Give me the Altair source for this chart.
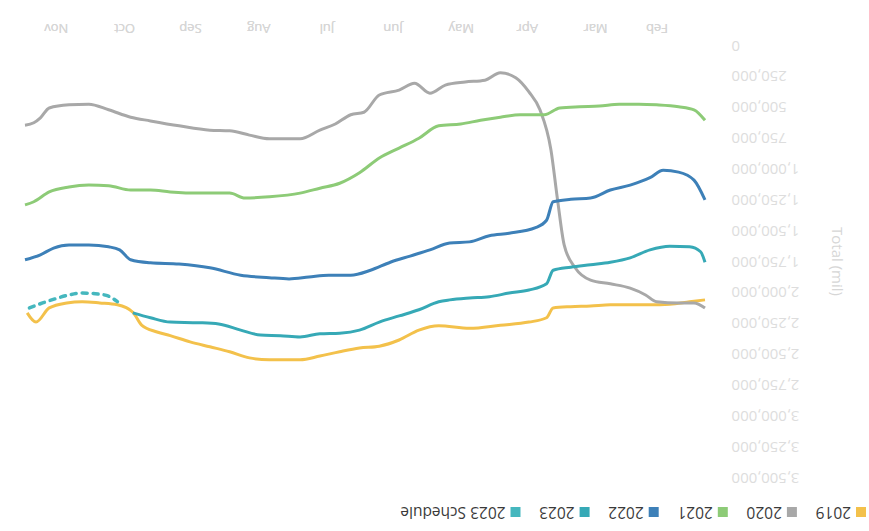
import altair as alt
import pandas as pd

# Daily totals by calendar day, one series per year (plotted on a shared calendar)
PLOT_YEAR = 2023

series_names = ["2019", "2020", "2021", "2022", "2023", "2023 Schedule"]
series_colors = ["#F3C14B", "#A8A8A8", "#8DCB77", "#3D80B8", "#36A9B6", "#45B7BE"]

days_2019 = ["01-10", "01-17", "01-26", "02-04", "02-13", "02-22", "03-03", "03-12", "03-20",
             "03-23", "03-31", "04-13", "04-27", "05-11", "05-20", "05-29", "06-07", "06-16",
             "06-25", "07-04", "07-13", "07-27", "08-05", "08-14", "08-23", "09-01", "09-10",
             "09-16", "09-23", "09-27", "10-04", "10-12", "10-20", "10-27", "11-04", "11-10",
             "11-14"]
values_2019 = [2065000, 2080000, 2100000, 2105000, 2105000, 2105000, 2115000, 2120000, 2130000,
               2210000, 2245000, 2270000, 2295000, 2275000, 2310000, 2390000, 2440000, 2455000,
               2485000, 2520000, 2550000, 2550000, 2535000, 2485000, 2445000, 2405000, 2355000,
               2325000, 2270000, 2165000, 2105000, 2090000, 2080000, 2090000, 2130000, 2245000,
               2170000]

days_2020 = ["01-10", "01-15", "01-22", "02-01", "02-06", "02-13", "02-22", "03-03", "03-10",
             "03-15", "03-18", "03-21", "03-26", "03-31", "04-06", "04-13", "04-20", "04-29",
             "05-08", "05-15", "05-22", "05-29", "06-07", "06-14", "06-20", "06-27", "07-04",
             "07-13", "07-27", "08-05", "08-14", "08-23", "09-06", "09-19", "09-28", "10-08",
             "10-17", "10-26", "11-04", "11-08", "11-11", "11-15"]
values_2020 = [2130000, 2090000, 2090000, 2080000, 2025000, 1970000, 1935000, 1905000, 1805000,
               1620000, 1255000, 850000, 525000, 380000, 265000, 225000, 285000, 300000,
               325000, 390000, 310000, 365000, 405000, 545000, 565000, 640000, 690000,
               760000, 760000, 730000, 695000, 690000, 655000, 615000, 585000, 525000,
               480000, 485000, 510000, 590000, 630000, 650000]

days_2021 = ["01-10", "01-15", "01-22", "02-01", "02-09", "02-18", "02-27", "03-08", "03-17",
             "03-24", "04-04", "04-13", "04-22", "05-01", "05-11", "05-20", "05-29", "06-07",
             "06-16", "06-25", "07-04", "07-13", "07-27", "08-07", "08-14", "08-28", "09-10",
             "09-19", "09-28", "10-08", "10-17", "10-26", "11-04", "11-11", "11-15"]
values_2021 = [610000, 525000, 500000, 485000, 480000, 480000, 495000, 500000, 510000,
               565000, 565000, 585000, 610000, 640000, 655000, 755000, 835000, 915000,
               1035000, 1120000, 1160000, 1200000, 1230000, 1240000, 1200000, 1200000, 1190000,
               1175000, 1175000, 1140000, 1135000, 1150000, 1190000, 1270000, 1295000]

days_2022 = ["01-10", "01-15", "01-22", "01-29", "02-04", "02-13", "02-22", "03-03", "03-12",
             "03-20", "03-23", "03-28", "04-09", "04-18", "04-27", "05-06", "05-15", "05-24",
             "06-02", "06-11", "06-20", "06-30", "07-09", "07-18", "07-27", "08-09", "08-23",
             "09-06", "09-19", "09-28", "10-03", "10-08", "10-17", "10-26", "11-02", "11-08",
             "11-15"]
values_2022 = [1255000, 1095000, 1030000, 1015000, 1075000, 1135000, 1175000, 1240000, 1250000,
               1270000, 1420000, 1480000, 1525000, 1545000, 1595000, 1605000, 1660000, 1710000,
               1760000, 1825000, 1865000, 1865000, 1880000, 1895000, 1885000, 1865000, 1805000,
               1775000, 1765000, 1740000, 1660000, 1635000, 1620000, 1620000, 1645000, 1700000,
               1740000]

days_2023 = ["01-10", "01-12", "01-17", "01-26", "02-04", "02-13", "02-22", "03-03", "03-12",
             "03-20", "03-23", "03-31", "04-09", "04-18", "04-27", "05-06", "05-11", "05-20",
             "05-29", "06-07", "06-16", "06-25", "07-04", "07-13", "07-22", "07-31", "08-09",
             "08-19", "08-28", "09-10", "09-19", "09-27"]
values_2023 = [1760000, 1675000, 1635000, 1630000, 1660000, 1725000, 1760000, 1780000, 1800000,
               1825000, 1935000, 1985000, 2010000, 2040000, 2050000, 2065000, 2080000, 2145000,
               2195000, 2245000, 2310000, 2335000, 2340000, 2365000, 2355000, 2350000, 2310000,
               2260000, 2250000, 2245000, 2210000, 2170000]

days_2023_schedule = ["10-04", "10-08", "10-14", "10-20", "10-26", "11-01", "11-07", "11-13"]
values_2023_schedule = [2080000, 2035000, 2015000, 2010000, 2025000, 2055000, 2090000, 2130000]

y_ticks = list(range(0, 3500001, 250000))

series_days = [days_2019, days_2020, days_2021, days_2022, days_2023, days_2023_schedule]
series_values = [values_2019, values_2020, values_2021, values_2022, values_2023, values_2023_schedule]

rows = []
for name, days, vals in zip(series_names, series_days, series_values):
    for d, v in zip(days, vals):
        rows.append({"series": name, "date": f"{PLOT_YEAR}-{d}", "value": v})
df = pd.DataFrame(rows)

# The whole chart is drawn turned half a turn: time runs right-to-left, values grow downward,
# and every piece of text is rotated 180 degrees.
FONT = "Open Sans"
color_scale = alt.Scale(domain=series_names, range=series_colors)

x_enc = alt.X(
    "date:T",
    scale=alt.Scale(reverse=True, domain=[f"{PLOT_YEAR}-01-10", f"{PLOT_YEAR}-11-15"]),
    axis=alt.Axis(orient="top", format="%b", tickCount={"interval": "month", "step": 1},
                  labelAngle=180, labelFontSize=13, labelColor="#d6d6d6", labelFont=FONT,
                  labelPadding=12, ticks=False, domain=False, grid=False),
    title=None,
)
y_enc = alt.Y(
    "value:Q",
    scale=alt.Scale(domain=[0, 3500000], reverse=True, nice=False),
    axis=alt.Axis(orient="right", values=y_ticks, format=",d", labelAngle=180,
                  labelFontSize=15, labelColor="#dddddd", labelFont=FONT, labelPadding=26,
                  ticks=False, domain=False, grid=False, titleFontSize=15,
                  titleColor="#d6d6d6", titleFont=FONT, titleFontWeight="normal",
                  titlePadding=30),
    title="Total (mil)",
)

base = alt.Chart(df)
solid = base.transform_filter(alt.datum.series != "2023 Schedule").mark_line(
    strokeWidth=3, interpolate="monotone"
).encode(x=x_enc, y=y_enc, color=alt.Color("series:N", scale=color_scale, legend=None))

dotted = base.transform_filter(alt.datum.series == "2023 Schedule").mark_line(
    strokeWidth=3.5, interpolate="monotone", strokeDash=[5, 6], strokeCap="round"
).encode(x=x_enc, y=y_enc, color=alt.Color("series:N", scale=color_scale, legend=None))

# Legend entries laid out right-to-left under the plot, swatch first, label after it
LEGEND_SIZE = 15.5
LEGEND_RIGHT = 841
LEGEND_Y = 467


def text_width(s, size=LEGEND_SIZE):
    return sum(0.26 * size if ch == " " else 0.55 * size for ch in s)


legend_rows = []
cursor = LEGEND_RIGHT
for name in series_names:
    legend_rows.append({"series": name, "swatch_x": cursor - 5, "label_x": cursor - 15})
    cursor -= 15 + text_width(name) + 20
legend_df = pd.DataFrame(legend_rows)

legend_swatches = alt.Chart(legend_df).mark_square(size=100, opacity=1).encode(
    x=alt.X("swatch_x:Q", scale=None, axis=None),
    y=alt.value(LEGEND_Y),
    color=alt.Color("series:N", scale=color_scale, legend=None),
)
legend_labels = alt.Chart(legend_df).mark_text(
    angle=180, align="left", baseline="middle", fontSize=LEGEND_SIZE, font=FONT, color="#3a3a3a"
).encode(
    x=alt.X("label_x:Q", scale=None, axis=None),
    y=alt.value(LEGEND_Y),
    text="series:N",
)

chart = alt.layer(solid, dotted, legend_swatches, legend_labels).resolve_scale(
    x="independent"
).properties(
    width=680,
    height=432,
    padding={"left": 25, "top": 45, "right": 164, "bottom": 54},
    autosize="none",
    background="white",
).configure_view(stroke=None)

chart.save("out.html", embed_options={"renderer": "svg", "actions": False})
